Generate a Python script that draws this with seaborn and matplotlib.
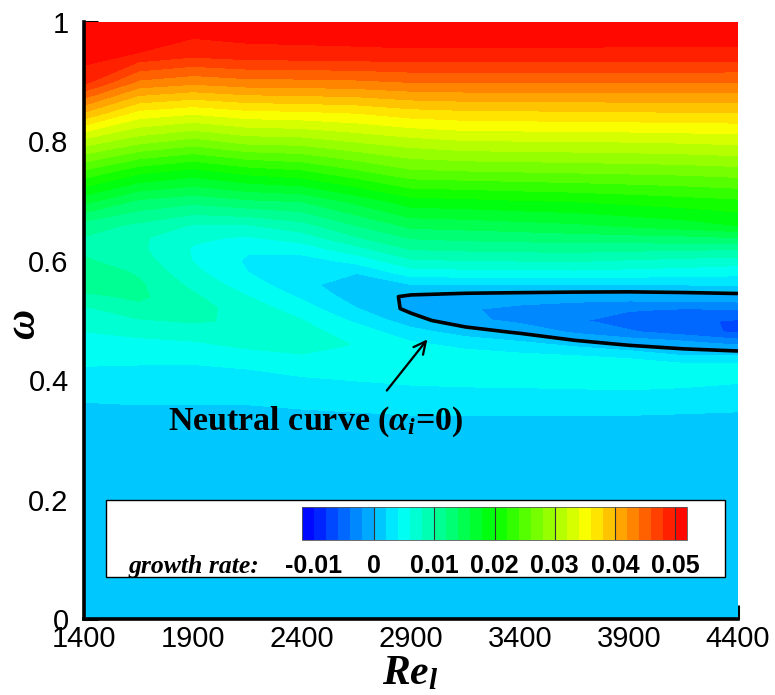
import numpy as np
import matplotlib
matplotlib.use("Agg")
import matplotlib.pyplot as plt
import seaborn as sns
from matplotlib.colors import LinearSegmentedColormap, Normalize
from matplotlib.patches import Rectangle
from matplotlib.ticker import MultipleLocator

# ---------------- data ----------------
re_values = [1400, 1650, 1900, 2150, 2400, 2650, 2900, 3150, 3400, 3650, 3900, 4150, 4400]
omega_values = [0.0, 0.1, 0.2, 0.3, 0.34, 0.37, 0.40, 0.42, 0.44, 0.46, 0.48, 0.50, 0.52,
                0.54, 0.56, 0.58, 0.60, 0.62, 0.64, 0.66, 0.70, 0.75, 0.80, 0.85, 0.90, 0.95, 1.0]

# growth rate along omega for each Re column
growth_re1400 = [0.0012, 0.0012, 0.0012, 0.0013, 0.0016, 0.0021, 0.0030, 0.0038, 0.0047, 0.0054, 0.0059, 0.0066, 0.0076,
                 0.0092, 0.0112, 0.0113, 0.0102, 0.0096, 0.0099, 0.0110, 0.0165, 0.0235, 0.0310, 0.0400, 0.0485, 0.0511, 0.0511]
growth_re1650 = [0.0012, 0.0012, 0.0012, 0.0013, 0.0016, 0.0022, 0.0030, 0.0037, 0.0046, 0.0055, 0.0063, 0.0077, 0.0092,
                 0.0104, 0.0103, 0.0097, 0.0089, 0.0084, 0.0084, 0.0095, 0.0135, 0.0205, 0.0285, 0.0355, 0.0435, 0.0500, 0.0511]
growth_re1900 = [0.0012, 0.0012, 0.0012, 0.0013, 0.0016, 0.0022, 0.0030, 0.0037, 0.0045, 0.0056, 0.0068, 0.0082, 0.0087,
                 0.0083, 0.0074, 0.0065, 0.0059, 0.0058, 0.0063, 0.0078, 0.0125, 0.0192, 0.0270, 0.0345, 0.0425, 0.0490, 0.0511]
growth_re2150 = [0.0012, 0.0012, 0.0012, 0.0013, 0.0016, 0.0022, 0.0031, 0.0040, 0.0051, 0.0064, 0.0075, 0.0077, 0.0071,
                 0.0060, 0.0049, 0.0040, 0.0037, 0.0042, 0.0058, 0.0078, 0.0135, 0.0207, 0.0285, 0.0355, 0.0432, 0.0495, 0.0511]
growth_re2400 = [0.0012, 0.0012, 0.0012, 0.0013, 0.0017, 0.0024, 0.0036, 0.0047, 0.0058, 0.0066, 0.0067, 0.0060, 0.0048,
                 0.0036, 0.0025, 0.0021, 0.0030, 0.0048, 0.0070, 0.0092, 0.0140, 0.0215, 0.0288, 0.0358, 0.0433, 0.0496, 0.0511]
growth_re2650 = [0.0012, 0.0012, 0.0012, 0.0013, 0.0018, 0.0026, 0.0040, 0.0050, 0.0058, 0.0059, 0.0050, 0.0035, 0.0020,
                 0.0010, 0.0008, 0.0020, 0.0045, 0.0072, 0.0098, 0.0120, 0.0165, 0.0235, 0.0300, 0.0362, 0.0435, 0.0497, 0.0511]
growth_re2900 = [0.0012, 0.0012, 0.0012, 0.0013, 0.0019, 0.0030, 0.0043, 0.0053, 0.0054, 0.0043, 0.0027, 0.0008, -0.0005,
                 -0.0003, 0.0018, 0.0048, 0.0075, 0.0100, 0.0122, 0.0145, 0.0190, 0.0255, 0.0310, 0.0372, 0.0440, 0.0498, 0.0511]
growth_re3150 = [0.0012, 0.0012, 0.0012, 0.0013, 0.0019, 0.0030, 0.0045, 0.0052, 0.0048, 0.0033, 0.0011, -0.0013, -0.0018,
                 -0.0007, 0.0018, 0.0050, 0.0078, 0.0103, 0.0126, 0.0148, 0.0193, 0.0258, 0.0317, 0.0376, 0.0441, 0.0498, 0.0511]
growth_re3400 = [0.0012, 0.0012, 0.0012, 0.0013, 0.0019, 0.0030, 0.0046, 0.0051, 0.0044, 0.0025, -0.0002, -0.0028, -0.0026,
                 -0.0009, 0.0018, 0.0051, 0.0079, 0.0105, 0.0128, 0.0152, 0.0197, 0.0260, 0.0318, 0.0377, 0.0441, 0.0498, 0.0511]
growth_re3650 = [0.0012, 0.0012, 0.0012, 0.0013, 0.0019, 0.0031, 0.0047, 0.0051, 0.0040, 0.0013, -0.0025, -0.0038, -0.0033,
                 -0.0011, 0.0018, 0.0052, 0.0080, 0.0106, 0.0131, 0.0156, 0.0200, 0.0262, 0.0319, 0.0378, 0.0441, 0.0498, 0.0511]
growth_re3900 = [0.0012, 0.0012, 0.0012, 0.0013, 0.0019, 0.0032, 0.0048, 0.0051, 0.0036, -0.0003, -0.0038, -0.0049, -0.0038,
                 -0.0012, 0.0018, 0.0050, 0.0076, 0.0104, 0.0133, 0.0163, 0.0205, 0.0264, 0.0320, 0.0379, 0.0441, 0.0497, 0.0511]
growth_re4150 = [0.0012, 0.0012, 0.0012, 0.0013, 0.0018, 0.0030, 0.0046, 0.0051, 0.0020, -0.0012, -0.0050, -0.0055, -0.0041,
                 -0.0010, 0.0019, 0.0048, 0.0072, 0.0102, 0.0135, 0.0170, 0.0210, 0.0266, 0.0322, 0.0380, 0.0441, 0.0497, 0.0511]
growth_re4400 = [0.0012, 0.0012, 0.0012, 0.0013, 0.0017, 0.0028, 0.0042, 0.0050, 0.0020, -0.0025, -0.0064, -0.0063, -0.0040,
                 -0.0007, 0.0020, 0.0045, 0.0068, 0.0100, 0.0140, 0.0180, 0.0215, 0.0270, 0.0325, 0.0380, 0.0440, 0.0497, 0.0511]

growth_min, growth_max = -0.0114, 0.0511
x_ticks = [1400, 1900, 2400, 2900, 3400, 3900, 4400]
y_ticks = [0, 0.2, 0.4, 0.6, 0.8, 1.0]
y_tick_labels = ["0", "0.2", "0.4", "0.6", "0.8", "1"]
cbar_ticks = [-0.01, 0.0, 0.01, 0.02, 0.03, 0.04, 0.05]
cbar_tick_labels = ["-0.01", "0", "0.01", "0.02", "0.03", "0.04", "0.05"]

# ---------------- style ----------------
sns.set_theme(style="ticks")
plt.rcParams["font.family"] = ["Liberation Sans", "DejaVu Sans"]
plt.rcParams["mathtext.fontset"] = "custom"
plt.rcParams["mathtext.it"] = "Liberation Serif:italic:bold"
plt.rcParams["mathtext.rm"] = "Liberation Serif:bold"
plt.rcParams["mathtext.bf"] = "Liberation Serif:bold"

W, H = 775, 695
fig = plt.figure(figsize=(W / 100, H / 100), dpi=100)
fig.patch.set_facecolor("white")
ax = fig.add_axes([84 / W, 1 - 619 / H, 654 / W, 597 / H])

columns = [growth_re1400, growth_re1650, growth_re1900, growth_re2150, growth_re2400, growth_re2650,
           growth_re2900, growth_re3150, growth_re3400, growth_re3650, growth_re3900, growth_re4150,
           growth_re4400]
Z = np.array(columns).T

levels = np.concatenate(([growth_min], np.round(np.arange(-0.010, 0.0501, 0.002), 4), [growth_max]))
cmap = LinearSegmentedColormap.from_list(
    "tecplot_modern", ["#0000ff", "#00ffff", "#00ff00", "#ffff00", "#ff0000"])
norm = Normalize(growth_min, growth_max)

cs = ax.contourf(re_values, omega_values, Z, levels=levels, cmap=cmap, norm=norm)
cs.set_edgecolor("face")
ax.contour(re_values, omega_values, Z, levels=[0.0], colors="black", linewidths=2.6)

ax.set_xlim(1400, 4400)
ax.set_ylim(0, 1)
ax.set_xticks(x_ticks)
ax.set_xticklabels([str(v) for v in x_ticks])
ax.set_yticks(y_ticks)
ax.set_yticklabels(y_tick_labels)
ax.xaxis.set_minor_locator(MultipleLocator(100))
ax.yaxis.set_minor_locator(MultipleLocator(0.05))
ax.tick_params(axis="both", which="major", direction="in", length=10, width=2.2,
               labelsize=21, color="black", labelcolor="black")
ax.tick_params(axis="y", which="major", pad=11)
ax.tick_params(axis="x", which="major", pad=4)
ax.tick_params(axis="both", which="minor", direction="in", length=5, width=1.3, color="black")
for side in ["top", "right"]:
    ax.spines[side].set_visible(False)
for side in ["left", "bottom"]:
    ax.spines[side].set_linewidth(2.6)
    ax.spines[side].set_color("black")

ax.set_ylabel("ω", fontfamily=["Liberation Serif", "DejaVu Serif"], fontstyle="italic",
              fontweight="bold", fontsize=30, color="black")
ax.yaxis.set_label_coords(-0.062, 0.495)
ax.set_xlabel("$Re_l$", fontsize=30, color="black")
ax.xaxis.set_label_coords(0.498, -0.058)

# neutral curve annotation
ax.annotate("", xy=(2983, 0.472), xytext=(2781, 0.379),
            arrowprops=dict(arrowstyle="->", lw=1.6, color="black", mutation_scale=22))
ax.text(1785, 0.33, r"Neutral curve ($\alpha_i$=0)", fontfamily="Liberation Serif",
        fontweight="bold", fontsize=24.5, va="center", ha="left", color="black")

# legend box with colour bar
fig.add_artist(Rectangle((106 / W, 1 - 577 / H), 619 / W, 77 / H, transform=fig.transFigure,
                         facecolor="white", edgecolor="black", lw=1.0, zorder=1))
cax = fig.add_axes([302 / W, 1 - 540 / H, 385 / W, 33 / H])
cax.set_zorder(2)
cb = fig.colorbar(cs, cax=cax, orientation="horizontal", ticks=cbar_ticks)
cb.ax.set_xticklabels(cbar_tick_labels, fontweight="bold", fontsize=18)
cb.ax.tick_params(length=0, pad=10, labelcolor="black")
cb.outline.set_linewidth(0.6)
cb.outline.set_edgecolor("#555555")
for v in cbar_ticks[1:]:
    cb.ax.axvline(v, color="#333333", lw=0.8)
fig.text(128 / W, 1 - 566 / H, "growth rate:", fontfamily="Liberation Serif", fontstyle="italic",
         fontweight="bold", fontsize=18.5, va="center", ha="left", color="black", zorder=3)

fig.savefig("out.png", dpi=100)
